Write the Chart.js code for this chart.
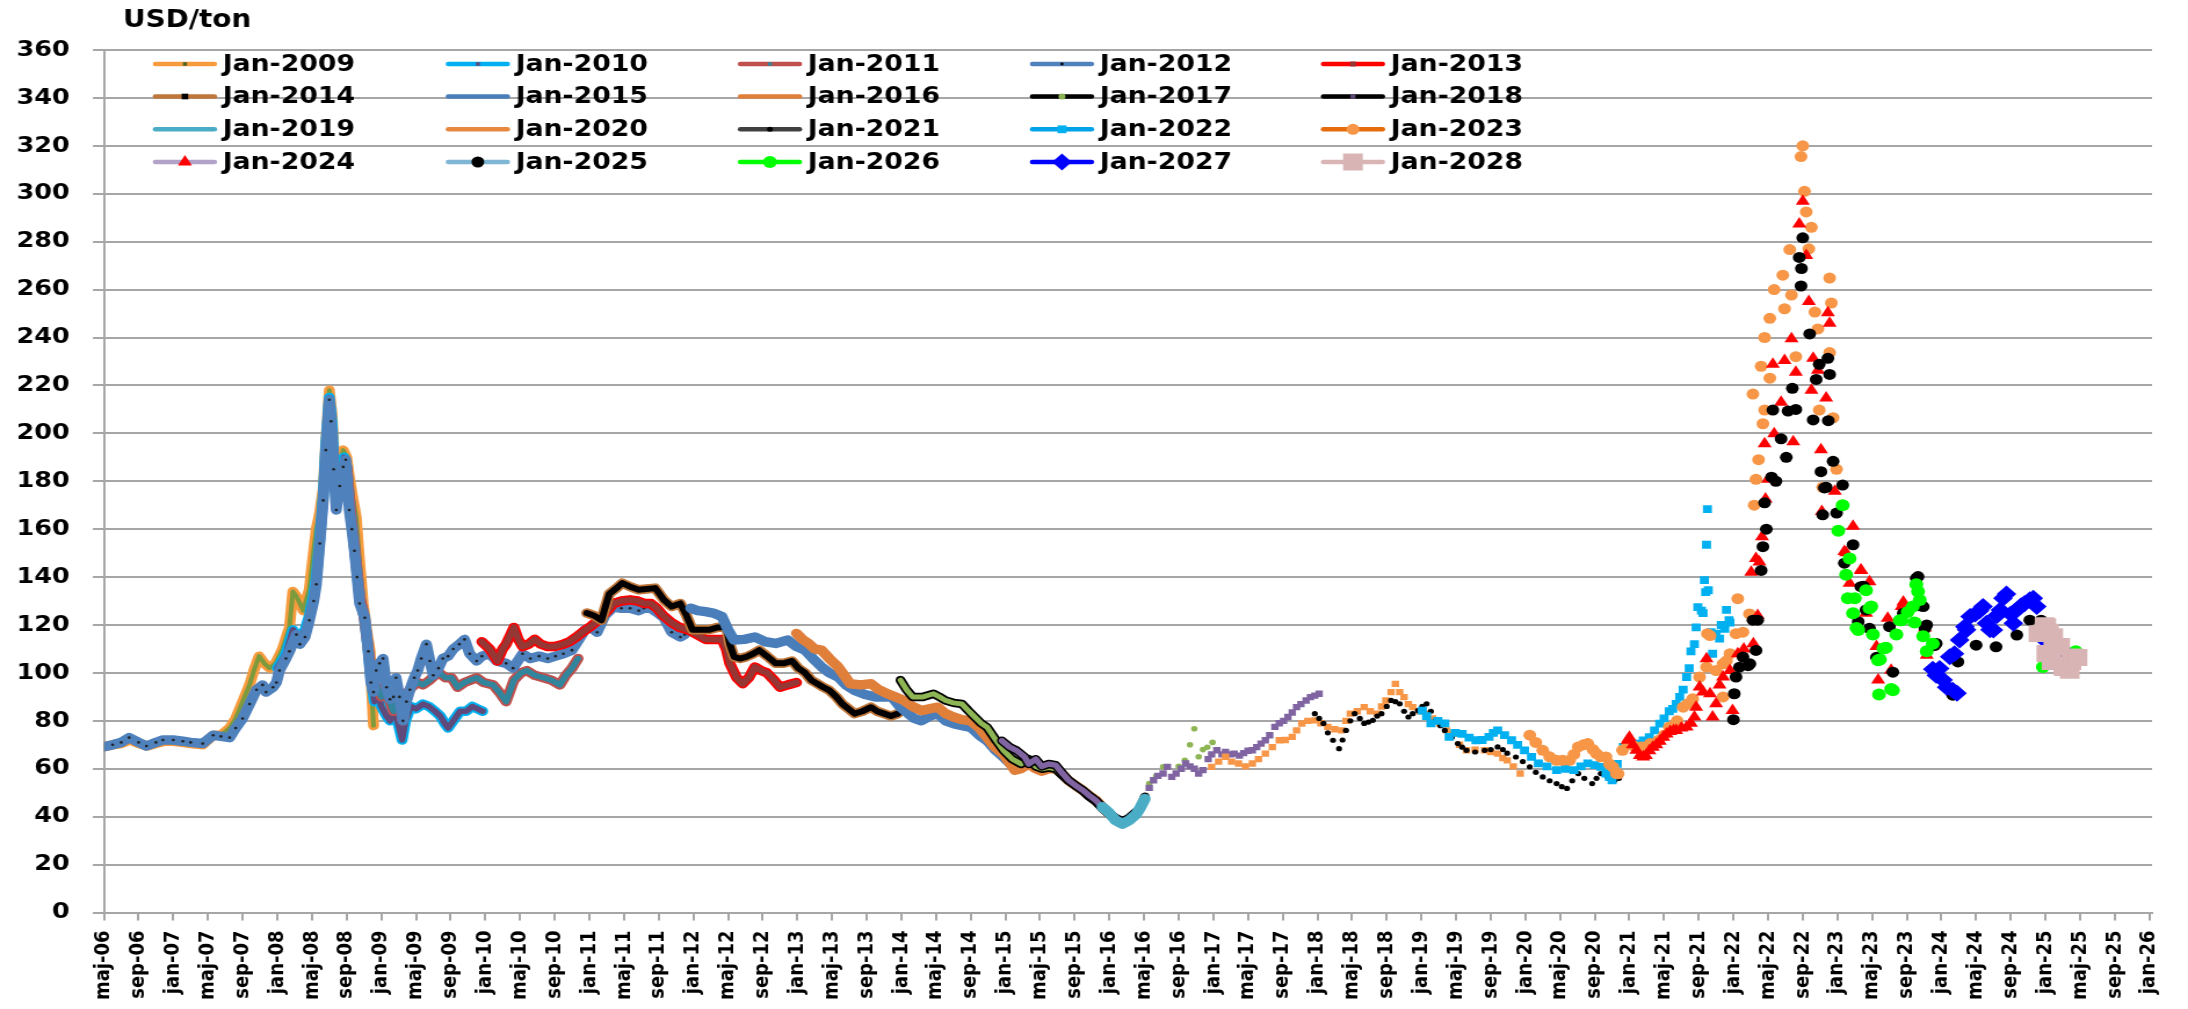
<!DOCTYPE html>
<html><head><meta charset="utf-8">
<script src="https://cdn.jsdelivr.net/npm/chart.js@4.4.1/dist/chart.umd.min.js"></script>
<style>html,body{margin:0;padding:0;background:#fff;overflow:hidden}</style>
</head><body>
<canvas id="c" width="1886" height="1009" style="display:block;width:2188px;height:1009px"></canvas>
<script>
// x = month index (0 = Jan 2006), y = USD/ton
const seriesNames = ['Jan-2009','Jan-2010','Jan-2011','Jan-2012','Jan-2013','Jan-2014','Jan-2015','Jan-2016','Jan-2017','Jan-2018','Jan-2019','Jan-2020','Jan-2021','Jan-2022','Jan-2023','Jan-2024','Jan-2025','Jan-2026','Jan-2027','Jan-2028'];
const tickLabels = ['maj-06','sep-06','jan-07','maj-07','sep-07','jan-08','maj-08','sep-08','jan-09','maj-09','sep-09','jan-10','maj-10','sep-10','jan-11','maj-11','sep-11','jan-12','maj-12','sep-12','jan-13','maj-13','sep-13','jan-14','maj-14','sep-14','jan-15','maj-15','sep-15','jan-16','maj-16','sep-16','jan-17','maj-17','sep-17','jan-18','maj-18','sep-18','jan-19','maj-19','sep-19','jan-20','maj-20','sep-20','jan-21','maj-21','sep-21','jan-22','maj-22','sep-22','jan-23','maj-23','sep-23','jan-24','maj-24','sep-24','jan-25','maj-25','sep-25','jan-26'];
const yTicks = {min:0, max:360, step:20};

const jan2009 = [[3.7,69],[5,70],[6,70.5],[7,72],[8,70.5],[9,69.5],[10,70.5],[11,71.5],[12,71.5],[13,71],[14,70.5],[15.4,70],[16.6,74],[17.5,74],[18.5,77],[19.2,81],[20,88],[20.8,95],[21.3,101],[21.9,107],[22.5,104],[23.1,102],[23.8,104],[24.6,110],[25.4,119],[25.8,134],[26.2,132],[27,126],[27.7,135],[28.1,148],[28.5,160],[28.9,167],[29.3,177],[29.6,196],[30,218],[30.3,208],[30.6,188],[30.9,182],[31.3,188],[31.6,193],[32,190],[32.3,182],[32.7,173],[33.1,165],[33.5,146],[33.9,129],[34.3,118],[34.7,109],[34.9,92],[35.1,78]];
const jan2010 = [[24,102],[25,108],[25.8,118],[26.5,114],[27.2,118],[27.7,124],[28.2,133],[28.5,140],[28.9,156],[29.3,174],[29.6,195],[30,215],[30.3,205],[30.6,183],[30.9,175],[31.3,182],[31.7,190],[32,186],[32.4,170],[32.8,156],[33.2,142],[33.6,130],[34,124],[34.4,112],[34.8,98],[35.2,88],[35.6,92],[36,86],[36.6,82],[37,80],[37.5,84],[38,78],[38.4,72],[38.8,80],[39.4,86],[40,85],[40.8,87],[41.5,86],[42.2,84],[42.8,82],[43.3,79],[43.7,77],[44.3,80],[45.1,84],[45.8,84],[46.5,86],[47.1,85],[47.7,84]];
const jan2011 = [[30,212],[30.5,186],[31,176],[31.5,186],[32,186],[32.5,166],[33,150],[33.5,132],[34,124],[34.5,110],[35,96],[35.5,94],[36,90],[36.6,92],[37.4,84],[38,90],[38.5,80],[38.9,91],[39.5,94],[40.2,96],[40.8,95],[41.6,97],[42.2,99],[42.7,100],[43.4,98],[44.1,98],[44.8,94],[45.6,96],[46.3,97],[47,98],[47.8,96],[48.9,95],[49.6,92],[50.4,88],[51.3,97],[52.1,100],[52.8,101],[53.7,99],[54.7,98],[55.6,97],[56.6,95],[57.3,99],[58,102],[58.7,106]];
const jan2012 = [[3.7,69],[5,70],[6,71],[6.9,73],[8,71],[8.9,69.5],[10,71],[10.8,72],[12,72],[13.1,71.5],[14,71],[15.4,70.5],[16.6,74],[17.5,73.5],[18.5,73],[19.2,77],[20,81],[20.8,87],[21.6,93],[22.3,95],[22.7,92],[23.5,94],[23.9,96],[24.25,101],[25,106],[25.4,109],[26.2,116],[26.6,112],[27.2,115],[27.7,122],[28.2,130],[28.5,137],[28.9,154],[29.3,172],[29.6,193],[30,214],[30.2,205],[30.5,185],[30.8,168],[31.2,178],[31.6,186],[31.9,189],[32.3,168],[32.6,160],[32.9,151],[33.2,140],[33.5,129],[34.1,123],[34.5,109],[34.8,96],[35.1,92],[35.4,101],[35.8,104],[36.2,106],[36.6,94],[37,89],[37.4,90],[37.7,98],[38.1,90],[38.5,80],[38.9,88],[39.3,93],[39.8,98],[40.2,101],[40.6,106],[41.2,112],[41.6,105],[42,99],[42.6,102],[43.1,106],[43.7,107],[44.3,110],[45,112],[45.6,114],[46.2,108],[47,105],[47.6,107],[48.5,108],[49.3,105],[50.4,104],[51.2,102],[52.3,108],[53.2,106],[54.2,107],[55.2,106],[56.1,107],[57,108],[58,109.5],[58.8,114],[59.5,118],[60.2,119],[60.9,117],[61.8,124],[62.8,127.5],[63.7,127],[64.7,127],[65.7,126],[66.3,127],[67.1,127],[67.9,125],[68.6,123],[69.5,117],[70.5,115],[71,116]];
const jan2013 = [[47.6,113],[48.5,110],[49.4,105],[50,110],[50.4,112],[51.3,119],[51.8,114],[52.3,111],[53,112],[53.7,114],[54.4,112],[55.2,111],[56,111],[57,112],[57.7,113],[58.5,115],[59.2,117],[60,119],[60.7,121],[61.4,123.5],[62.1,126],[62.8,129],[63.7,130],[64.7,130.5],[65.6,130],[66.3,129],[67.1,129],[67.8,127],[68.5,124],[69.5,121],[70.4,119],[71.4,118],[72.4,116],[73.4,114],[74.4,114],[75.3,114],[75.8,110],[76.2,104],[77,98],[77.7,95.5],[78.4,98],[79.1,102.5],[79.8,101],[80.5,100],[81.3,97],[82,94],[82.9,95],[83.9,96]];
const jan2014 = [[59.7,125],[60.5,124],[61.4,122],[61.8,127],[62.3,133],[63,135],[63.8,137.5],[64.7,136],[65.7,134.7],[66.6,135],[67.6,135.4],[68.1,133],[68.6,130.5],[69.5,127.7],[70.5,129],[71.2,124],[71.9,118],[72.9,118],[73.8,118],[74.8,119],[75.8,119.3],[76.2,112],[76.7,106.7],[77.4,106],[78.1,106.7],[78.9,108],[79.6,109.5],[80.5,107],[81.5,104],[82.4,104],[83.4,105],[84.1,102],[84.9,100],[85.6,97],[86.3,95.5],[87,94],[87.7,92.7],[88.5,90],[89.2,87],[89.9,85],[90.6,83],[91.5,84],[92.5,85.7],[93.2,84],[94,83],[94.8,82],[95.6,83]];
const jan2015 = [[71.7,127],[72.5,126],[73.4,125.6],[74.3,125],[75.3,123.5],[76,118],[76.7,113.7],[77.9,114],[79.1,115],[80.3,113],[81.5,112.3],[82.2,113],[82.9,113.7],[83.9,111],[84.9,109.5],[85.8,106],[86.8,102.5],[87.7,100],[88.7,98.3],[89.6,95],[90.6,92.7],[91.8,91],[93,90],[94,90],[94.9,90],[95.8,86],[96.8,83],[97.5,81],[98.3,80],[99.3,82],[100.2,83],[101.1,80],[102.1,78.7],[103,78],[104,77.3],[105,74],[105.9,71.7],[106.8,68],[107.8,64.8],[108.6,62]];
const jan2016 = [[83.9,116.5],[84.6,114],[85.3,112.3],[86,110],[86.8,109.5],[87.7,106],[88.7,102.5],[89.4,99],[90.1,95.5],[91.3,95],[92.5,95.5],[93.4,93],[94.4,91.3],[95.3,90],[96.3,88.5],[97.3,86],[98.3,84.3],[99.2,85],[100.2,85.7],[101.1,83],[102.1,81.5],[103,80.5],[104,80],[105,77],[105.9,73],[106.8,69],[107.8,66],[108.6,62],[109.1,59.4],[109.8,60],[110.7,62],[111.5,60],[112.2,59],[113,60],[113.8,60],[114.5,58],[115.3,55],[116.1,53],[116.9,51],[117.6,49],[118.4,47],[119.2,44],[120,41]];
const jan2017 = [[95.9,97],[96.6,93],[97.3,90],[98.5,90],[99.7,91.3],[100.4,90],[101.1,88.5],[102,87.5],[103,87],[103.8,84],[104.5,81.5],[105.2,79],[105.9,77.3],[106.9,72],[107.8,67.6],[108.8,64],[109.8,62],[110.7,64],[111.5,61],[112.2,60],[113,60.5],[113.8,60],[114.5,57.5],[115.3,55],[116.1,53],[116.9,51],[117.6,48.5],[118.4,46.5],[119.2,43.5],[120,41],[120.7,39],[121.5,38],[122.3,39.5],[123.1,42],[124.1,48],[124.6,53.8],[125.4,57],[126.2,60.8],[127.2,56.6],[128,61],[128.7,63.5],[129.3,70],[129.8,76.7],[130.3,65],[130.8,68],[131.3,69],[131.9,71]];
const jan2018 = [[107.6,71.7],[108.5,69],[109.3,67.6],[110.2,65],[110.7,62],[111.5,64],[112.2,61],[113,62],[113.8,61.5],[114.6,58],[115.3,55.2],[116.1,53],[116.9,51.1],[117.6,49],[118.4,46.9],[119.2,44],[120,41.4],[120.7,39.5],[121.5,38],[122.3,39],[123.1,41.4],[123.6,44],[124.1,48.3],[124.6,52],[125.1,55.2],[125.6,57],[126.2,58],[126.7,60.8],[127.2,56.6],[127.7,58],[128.3,60],[128.8,62.2],[129.3,61],[129.8,60],[130.3,58],[130.8,59.4],[131.4,64],[131.8,66],[132.4,67.7],[133,66],[133.4,67],[134,66],[134.4,66.3],[135,65.5],[135.5,66.5],[136,67.5],[136.5,67.7],[137,69],[137.5,70.5],[138,71.9],[138.5,74],[139.1,77.5],[139.6,79],[140.1,80],[140.6,81.6],[141.1,83.5],[141.6,85.7],[142.1,87],[142.7,88.5],[143.2,89.9],[143.7,90.5],[144.2,91.3]];
const jan2019 = [[119.2,44],[120,41.5],[120.7,38.5],[121.5,37],[122.3,38.5],[123.1,41],[123.6,44],[124.1,47.5]];
const jan2020 = [[131.8,60.8],[132.6,63],[133.4,65],[134.1,63],[134.9,62.2],[135.7,61],[136.5,62.2],[137.2,64],[138,66.3],[138.8,69],[139.6,71.9],[140.3,72],[141.1,73.3],[141.6,76],[142.2,78.9],[142.9,80],[143.7,80.2],[144.4,79],[145.2,77.5],[146,76.5],[146.8,76],[147.3,80],[147.8,83],[148.6,84],[149.4,85.7],[150.1,84],[150.9,83],[151.4,86],[151.9,88.5],[152.5,92],[153,95.4],[153.5,92],[154,89.9],[154.5,87],[155,85.7],[155.8,84],[156.6,83],[157.3,81],[158.1,78.9],[158.9,76],[159.7,74.6],[160.4,70],[161.2,67.7],[162.2,68],[163.3,67.7],[164,67],[164.8,66.3],[165.4,64.5],[165.9,63.5],[166.6,61],[167.4,58]];
const jan2021 = [[143.7,83],[144.2,81],[144.7,78.9],[145.2,75],[145.8,71.9],[146.5,68.4],[146.9,72],[147.3,76],[147.8,80],[148.3,83],[148.9,81],[149.4,78.9],[149.9,79.5],[150.4,80.2],[150.9,82],[151.4,83],[152,86],[152.5,88.5],[153,88],[153.5,87.1],[154,84],[154.5,81.6],[155,83],[155.6,84.3],[156.1,86],[156.6,87.1],[157.1,84],[157.6,80],[158.2,78],[158.7,76],[159.5,73],[160.2,70.5],[160.7,69],[161.2,67.7],[162.2,67],[163.3,67.7],[164,68],[164.8,69.1],[165.4,68],[165.9,66.5],[166.9,64.9],[167.7,63],[168.5,60.8],[169.2,58.5],[170,56.6],[170.8,55],[171.6,53.8],[172.2,52.5],[172.8,51.8],[173.4,55],[174.1,58],[174.8,56],[175.7,53.8],[176.2,56],[176.7,58],[177.5,56.5],[178.3,55.2],[178.8,56]];
const jan2022 = [[156.1,84.3],[156.6,82],[157.1,78.9],[157.9,80],[158.7,78.9],[159.2,73.3],[159.9,75],[160.7,74.6],[161.5,73],[162.3,71.9],[163,72],[163.8,73.3],[164.3,75],[164.8,76],[165.6,74],[166.4,71.9],[167.1,70],[167.9,67.7],[168.7,65],[169.5,62.2],[170.5,61],[171.6,59.4],[172.6,60],[173.6,59.4],[174.4,61],[175.2,62.2],[176,61.5],[176.7,60.8],[177.3,58],[177.7,56.5],[178,55.2],[178.6,62],[179.3,69.1],[180,70],[180.8,70.5],[181.6,71.8],[182.3,73.2],[182.9,76],[183.5,78.8],[184,81],[184.6,84],[185,85],[185.4,87.1],[185.8,90],[186.2,93],[186.6,98.3],[186.9,102],[187.1,109],[187.5,112],[187.7,119],[187.9,127.5],[188.3,126],[188.5,125],[188.65,138.7],[188.8,133.7],[188.9,153.5],[189,168.4],[189.1,134.5],[189.4,117],[189.6,108],[190,116.4],[190.4,114.3],[190.6,120],[191,118.4],[191.2,126.3],[191.5,122],[191.6,121]];
const jan2023 = [[168.5,74],[169.2,71],[170,67.7],[170.8,65],[171.6,63.5],[172.3,63.5],[173.1,63.5],[173.6,66],[174.1,69.1],[174.7,70],[175.2,70.5],[175.8,68],[176.2,66.3],[176.7,65],[177.3,64.9],[177.7,62],[178.1,60.7],[178.5,58],[178.7,57.9],[179.2,67.7],[179.8,70.5],[180.5,69.5],[181.4,69.1],[182.4,70.5],[183.4,71.9],[184,74],[184.6,77.4],[185.5,80],[186.2,85.7],[186.7,87],[187.3,89.2],[188.1,98.3],[188.9,102.4],[189,116.4],[189.3,115.6],[190,101],[190.8,103.8],[190.8,90],[191.2,105],[191.6,108],[192.3,116.4],[192.5,131],[193.1,117],[193.85,124.6],[194.25,216.4],[194.4,170],[194.6,180.8],[194.9,189],[195.2,228],[195.4,204],[195.6,209.7],[195.6,240],[196.2,223],[196.2,248],[196.7,260],[197.7,266],[197.9,252],[198.5,276.7],[198.7,257.7],[199.2,232],[199.8,315.5],[200,320],[200.2,301],[200.4,292.4],[200.7,277],[201,286],[201.4,250.6],[201.75,243.6],[201.9,209.7],[202.3,177.5],[203.1,264.8],[203.1,233.7],[203.3,254.4],[203.5,206.5],[203.9,185]];
const jan2024 = [[179.8,71.9],[180,73.2],[180.4,70],[180.8,67.7],[181.2,65.5],[181.6,64.9],[181.9,65.5],[182.3,67.5],[182.7,69],[183.1,70],[183.5,71.5],[183.9,73.2],[184.3,74.5],[184.7,75.5],[185.1,76],[185.4,76],[186,77],[186.6,77.4],[187.1,79],[187.5,81.6],[187.7,85.7],[188.1,94.1],[188.5,92],[188.9,105.9],[189.3,91.3],[189.6,81.6],[190,87.1],[190.4,95],[190.8,98.3],[191.6,101],[191.9,84.3],[192.5,108],[193.2,110],[194.05,142],[194.3,112.2],[194.6,147.8],[194.8,124],[195,146.3],[195.3,156.8],[195.6,195.7],[195.7,172.6],[196,180.8],[196.55,228.8],[196.7,199.8],[197.5,213],[197.9,230.4],[198.7,239.5],[198.9,196.5],[199.2,225.5],[199.6,287.4],[200,296.9],[200.4,274.2],[200.7,255],[201,218],[201.2,231.3],[201.75,226.3],[202.1,193.2],[202.2,167.4],[202.7,214.7],[202.9,250.3],[203.1,246],[203.7,175.8],[204.8,150.7],[205,150.2],[205.4,137.4],[205.8,161.2],[206.7,143],[206.75,142.8],[207.3,124.9],[207.7,138.1],[208.5,111],[208.7,97],[209.8,122.8],[210.2,101.1],[211.4,127.7],[211.6,129.6],[214.1,118.8],[214.3,107.4]];
const jan2025 = [[192,80.5],[192.1,91.3],[192.3,98.3],[192.7,102.4],[193.1,106.6],[193.7,103],[193.9,103.8],[194.25,122],[194.6,109.4],[194.8,122],[195.2,142.8],[195.4,152.7],[195.6,171],[195.8,160],[196.4,181.7],[196.55,209.7],[196.9,180],[197.5,197.7],[198.1,190],[198.3,209.3],[198.8,218.8],[199.2,210],[199.6,273.4],[199.8,261.5],[199.85,268.8],[200,281.6],[200.8,241.5],[201.2,205.6],[201.55,222.5],[201.9,228.8],[202.1,184],[202.3,166],[202.5,177.2],[202.7,177.5],[202.9,231.3],[202.95,205.3],[203.1,224.6],[203.5,188.3],[203.9,166.7],[204.6,178.4],[204.8,145.8],[205.8,153.5],[206.4,121.4],[206.7,136],[207,136.2],[207.3,126.3],[207.7,118.6],[208.5,106.5],[208.7,105.3],[210,119.3],[210.4,100.3],[211.6,124.9],[213.1,139.5],[213.3,140.2],[213.5,128],[213.9,127.7],[214.1,118.6],[214.3,120],[215.2,111.4],[215.4,112.3],[217.3,90.7],[217.9,104.6],[220,111.6],[222.3,110.9],[224.7,115.8],[226.2,122],[227.5,122]];
const jan2026 = [[204.1,159.3],[204.6,170],[205,141],[205.2,131.2],[205.4,147.8],[205.8,124.9],[206,131.2],[206.2,118.8],[206.4,117.9],[207.3,134.5],[207.7,127],[207.9,127.7],[208.1,116],[208.7,105.3],[208.8,91],[208.9,105.6],[209.3,110.2],[209.6,110.5],[210.2,93.3],[210.4,92.8],[210.8,116],[211.2,122],[211.4,122],[212.1,125.4],[212.7,127.7],[212.9,121],[213.1,137],[213.3,134],[213.5,130.4],[213.9,115.3],[214.3,109],[215,112.2],[215.4,99],[227.7,102.5],[230.8,108.1],[231.5,109]];
const jan2027 = [[215,101.5],[215.4,99],[215.8,101.8],[216.2,97],[216.6,94],[216.95,106.7],[217.3,92.8],[217.5,108],[217.8,91.5],[218.1,113.7],[218.7,119.3],[218.9,118],[219.3,123.5],[219.9,124.6],[220.4,126],[220.8,127.7],[221.2,120.7],[221.6,118],[222,117.9],[222.4,124],[222.8,126.3],[223.1,131.2],[223.5,132.9],[224,124.6],[224.3,120.7],[224.7,126.3],[225.2,128],[225.6,129],[226.2,130.5],[226.6,131.2],[227,127.7],[227.35,116.5],[227.6,114.7],[228.5,113],[229.5,110],[230.5,108],[231.5,106]];
const jan2028 = [[227.2,116.4],[227.9,119.7],[228.1,108.1],[228.1,119.3],[228.4,117],[228.7,104.8],[228.9,115.1],[229.1,111],[229.7,111],[230.05,102.5],[230.2,102.3],[230.8,101.1],[231,104.8],[231.2,106.7],[231.7,106.4]];

const seriesData = [jan2009,jan2010,jan2011,jan2012,jan2013,jan2014,jan2015,jan2016,jan2017,jan2018,jan2019,jan2020,jan2021,jan2022,jan2023,jan2024,jan2025,jan2026,jan2027,jan2028];

// ---------- styles ----------
const styles = [
 {line:'#F79B3E', w:9.5, core:'#7D9A3C', cw:4, ps:'rect', pr:1.6, pc:'#1a1a1a', lm:{ps:'rect',r:2.5,c:'#4F6228'}},
 {line:'#00B0F0', w:9.5, core:'#604A7B', cw:5.5, pr:0, lm:{ps:'rect',r:2.5,c:'#604A7B'}},
 {line:'#C0504D', w:9.5, core:'#31859C', cw:5.5, pr:0, lm:{ps:'rect',r:2.5,c:'#31859C'}},
 {line:'#4F81BD', w:9.5, ps:'circle', pr:1.3, pc:'#1F1F1F', lm:{ps:'circle',r:1.4,c:'#000'}},
 {line:'#FF0000', w:9.5, core:'#953735', cw:6, pr:0, lm:{ps:'rect',r:3.5,c:'#953735'}},
 {line:'#C0773B', w:9.5, core:'#000000', cw:6, pr:0, lm:{ps:'rect',r:4,c:'#000'}},
 {line:'#4A7EBB', w:9.5, pr:0, lm:null},
 {line:'#E07F3A', w:9.5, pr:0, lm:null},
 {line:'#000000', w:8.5, core:'#8EB553', cw:5, lineEnd:123.2, ps:'circle', pr:0, pr2:2.8, pc:'#8EB553', lm:{ps:'circle',r:3,c:'#8EB553'}},
 {line:'#000000', w:8.5, core:'#8064A2', cw:5.5, lineEnd:124.2, ps:'rect', pr:0, pr2:4.5, pc:'#8064A2', lm:{ps:'rect',r:3,c:'#604A7B'}},
 {line:'#4BACC6', w:10, pr:0, lm:null},
 {line:'#E6883F', points:true, ps:'rect', pr:4.5, pc:'#F79646', lm:null},
 {line:'#404040', points:true, ps:'circle', pr:2.6, pc:'#000000', lm:{ps:'circle',r:2.5,c:'#000'}},
 {line:'#00A2E8', points:true, ps:'rect', pr:5.5, pc:'#00B0F0', lm:{ps:'rect',r:5.5,c:'#00B0F0'}},
 {line:'#E46C0A', points:true, ps:'circle', pr:5.5, pc:'#F79646', lm:{ps:'circle',r:5.5,c:'#F79646'}},
 {line:'#B3A2C7', points:true, ps:'triangle', pr:7, pc:'#FF0000', lm:{ps:'triangle',r:7,c:'#FF0000'}},
 {line:'#7EB6D3', points:true, ps:'circle', pr:5.5, pc:'#000000', lm:{ps:'circle',r:5.5,c:'#000'}},
 {line:'#00FF00', points:true, ps:'circle', pr:6, pc:'#00FF00', lm:{ps:'circle',r:6,c:'#00FF00'}},
 {line:'#0000FF', points:true, ps:'rectRot', pr:8.5, pc:'#0000FF', lm:{ps:'rectRot',r:8.5,c:'#0000FF'}},
 {line:'#D9B5B5', points:true, ps:'rect', pr:12, pc:'#D8B4B4', lm:{ps:'rect',r:12,c:'#D8B4B4'}}
];
const GRID = '#A6A6A6';
const FONT = '"DejaVu Sans", Verdana, sans-serif';
const tickMonths = tickLabels.map((_, k) => 4 + 4 * k);

const datasets = seriesData.map((arr, i) => {
  const st = styles[i];
  const d = {
    label: seriesNames[i],
    data: arr.map(p => ({x: p[0], y: p[1]})),
    borderColor: st.line,
    backgroundColor: st.pc || st.line,
    borderWidth: st.w || 0,
    showLine: !st.points,
    pointStyle: st.ps || 'circle',
    pointRadius: st.lineEnd !== undefined ? (c => (c.parsed && c.parsed.x > st.lineEnd) ? st.pr2 : st.pr) : (st.pr || 0),
    pointBackgroundColor: st.pc || st.line,
    pointBorderColor: st.pc || st.line,
    pointBorderWidth: 0,
    pointHoverRadius: 0,
    borderJoinStyle: 'round',
    borderCapStyle: 'round',
    tension: 0,
    order: seriesData.length - i,
    coreColor: st.core, coreWidth: st.cw, lineEnd: st.lineEnd
  };
  if (st.lineEnd !== undefined) {
    d.segment = { borderColor: c => (c.p1.parsed.x > st.lineEnd ? 'rgba(0,0,0,0)' : undefined) };
  }
  return d;
});

function drawMarker(ctx, ps, r, x, y, color) {
  ctx.fillStyle = color;
  ctx.beginPath();
  if (ps === 'circle') { ctx.arc(x, y, r, 0, Math.PI * 2); }
  else if (ps === 'rect') { const s = Math.SQRT1_2 * r; ctx.rect(x - s, y - s, 2 * s, 2 * s); }
  else if (ps === 'rectRot') { ctx.moveTo(x, y - r); ctx.lineTo(x + r, y); ctx.lineTo(x, y + r); ctx.lineTo(x - r, y); ctx.closePath(); }
  else if (ps === 'triangle') {
    let a = 0; ctx.moveTo(x + Math.sin(a) * r, y - Math.cos(a) * r);
    a += 2 * Math.PI / 3; ctx.lineTo(x + Math.sin(a) * r, y - Math.cos(a) * r);
    a += 2 * Math.PI / 3; ctx.lineTo(x + Math.sin(a) * r, y - Math.cos(a) * r);
    ctx.closePath();
  }
  ctx.fill();
}

const corePlugin = {
  id: 'core',
  afterDatasetDraw(chart, args) {
    const ds = chart.data.datasets[args.index];
    if (!ds.coreColor) return;
    const pts = args.meta.data, ctx = chart.ctx, a = chart.chartArea;
    ctx.save();
    ctx.beginPath(); ctx.rect(a.left, a.top, a.right - a.left, a.bottom - a.top); ctx.clip();
    ctx.strokeStyle = ds.coreColor; ctx.lineWidth = ds.coreWidth;
    ctx.lineJoin = 'round'; ctx.lineCap = 'round';
    ctx.beginPath();
    let started = false;
    for (let i = 0; i < pts.length; i++) {
      if (ds.lineEnd !== undefined && ds.data[i].x > ds.lineEnd) break;
      const p = pts[i];
      if (!started) { ctx.moveTo(p.x, p.y); started = true; } else ctx.lineTo(p.x, p.y);
    }
    ctx.stroke();
    ctx.restore();
  }
};

const legendCols = [131.9, 384.4, 636.2, 887.9, 1138.7];
const legendRows = [64, 96.5, 129.3, 162];
const legendPlugin = {
  id: 'customLegend',
  afterDraw(chart) {
    const ctx = chart.ctx;
    ctx.save();
    chart.data.datasets.forEach((ds, i) => {
      const st = styles[i];
      const x0 = legendCols[i % 5], y = legendRows[Math.floor(i / 5)];
      ctx.strokeStyle = st.line; ctx.lineWidth = 4.5; ctx.lineCap = 'round';
      ctx.beginPath(); ctx.moveTo(x0 + 2, y); ctx.lineTo(x0 + 53, y); ctx.stroke();
      if (st.lm) drawMarker(ctx, st.lm.ps, st.lm.r, x0 + 27.5, y, st.lm.c);
      ctx.fillStyle = '#000';
      ctx.font = 'bold 23px ' + FONT;
      ctx.textAlign = 'left'; ctx.textBaseline = 'middle';
      ctx.fillText(ds.label, x0 + 60, y + 1);
    });
    ctx.font = 'bold 24px ' + FONT;
    ctx.textAlign = 'left'; ctx.textBaseline = 'middle';
    ctx.fillStyle = '#000';
    ctx.fillText('USD/ton', 106, 21);
    ctx.restore();
  }
};

new Chart(document.getElementById('c'), {
  type: 'line',
  data: { datasets },
  plugins: [corePlugin, legendPlugin],
  options: {
    responsive: false,
    animation: false,
    devicePixelRatio: 1,
    events: [],
    layout: { padding: { left: 0, right: 31, top: 50, bottom: 0 } },
    plugins: { legend: { display: false }, tooltip: { enabled: false }, title: { display: false } },
    scales: {
      x: {
        type: 'linear', min: 4, max: 240.3,
        afterBuildTicks: s => { s.ticks = tickMonths.map(v => ({ value: v })); },
        afterFit: s => { s.height = 96.5; },
        ticks: {
          autoSkip: false, maxRotation: 90, minRotation: 90, padding: 10,
          color: '#000', font: { family: FONT, size: 18, weight: 'bold' },
          callback: (v, idx) => tickLabels[idx]
        },
        grid: { drawOnChartArea: false, drawTicks: true, tickLength: 8, color: GRID, lineWidth: 2 },
        border: { display: true, color: GRID, width: 2 }
      },
      y: {
        type: 'linear', min: yTicks.min, max: yTicks.max,
        afterFit: s => { s.width = 89.6; },
        ticks: { stepSize: yTicks.step, padding: 20, color: '#000', font: { family: FONT, size: 22, weight: 'bold' } },
        grid: { color: GRID, lineWidth: 2, drawTicks: true, tickLength: 9.5 },
        border: { display: true, color: GRID, width: 2 }
      }
    }
  }
});
</script>
</body></html>
